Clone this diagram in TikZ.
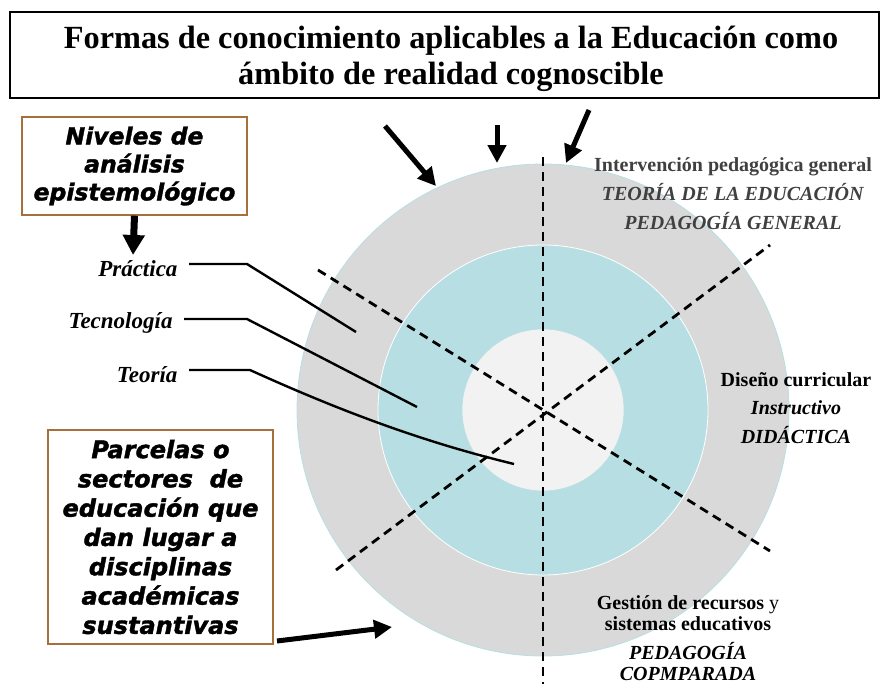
\documentclass[tikz,border=0pt]{standalone}
\usepackage{fontspec}
\setmainfont{Liberation Serif}
\newfontfamily\heavyfont[BoldItalicFeatures={FakeBold=1.6}]{DejaVu Sans}
\usetikzlibrary{arrows.meta}

\definecolor{ringgrey}{RGB}{217,217,217}
\definecolor{ringcyan}{RGB}{183,223,227}
\definecolor{corelight}{RGB}{242,242,242}
\definecolor{boxbrown}{RGB}{166,112,60}
\definecolor{textgrey}{RGB}{64,64,64}

\tikzset{
  bigarrow/.style={line width=5pt, -{Triangle[length=18pt,width=18pt]}},
  dashline/.style={line width=2.8pt, dash pattern=on 9pt off 6pt},
  leader/.style={line width=2.4pt},
  brownbox/.style={draw=boxbrown, line width=1.4pt, fill=white, inner sep=0pt,
    align=center, font=\heavyfont\bfseries\itshape\fontsize{23.5}{28}\selectfont},
  levellabel/.style={anchor=east, font=\bfseries\itshape\fontsize{23}{26}\selectfont},
  sectortext/.style={align=center, font=\fontsize{20}{29}\selectfont},
}

\begin{document}
\begin{tikzpicture}[x=1pt,y=-1pt]
  \useasboundingbox (0,0) rectangle (881,686);

  % Title
  \draw[line width=2.2pt] (10,12) rectangle (879,98);
  \node[align=center, font=\bfseries\fontsize{32.3}{36}\selectfont] (title) at (451,59)
    {Formas de conocimiento aplicables a la Educación como\\ámbito de realidad cognoscible};

  % Rings
  \coordinate (ctr) at (543,410);
  \fill[ringgrey] (ctr) circle (246pt);
  \draw[ringcyan, line width=0.8pt] (ctr) circle (246pt);
  \draw[white, fill=ringcyan, line width=0.8pt] (ctr) circle (165pt);
  \draw[ringcyan, fill=corelight, line width=0.6pt] (ctr) circle (81pt);

  % Dashed sector lines
  \coordinate (vtop) at (543,157);
  \coordinate (vbot) at (543,684);
  \coordinate (dltop) at (318,270);
  \coordinate (dlbot) at (770,551);
  \coordinate (drbot) at (336,570);
  \coordinate (drtop) at (770,245);
  \foreach \s/\e in {vtop/vbot, dltop/dlbot, drbot/drtop}
    \draw[dashline] (\s) -- (\e);

  % Arrows onto the outer ring
  \coordinate (ina) at (385,126);  \coordinate (outa) at (436,186);
  \coordinate (inb) at (497,125);  \coordinate (outb) at (497,163);
  \coordinate (inc) at (589,110);  \coordinate (outc) at (566,163);
  \coordinate (ind) at (277,641);  \coordinate (outd) at (392,627);
  \foreach \s/\e in {ina/outa, inb/outb, inc/outc, ind/outd}
    \draw[bigarrow] (\s) -- (\e);

  % Boxes
  \node[brownbox, minimum width=225pt, minimum height=98pt] (niveles) at (134.5,166)
    {Niveles de\\análisis\\epistemológico};
  \node[brownbox, minimum width=225pt, minimum height=214pt,
    font=\heavyfont\bfseries\itshape\fontsize{24}{29.3}\selectfont] (parcelas) at (160.5,537)
    {Parcelas o\\sectores~~de\\educación que\\dan lugar a\\disciplinas\\académicas\\sustantivas};
  \coordinate (nivtip) at (133,255);
  \draw[line width=7pt, -{Triangle[length=20pt,width=21pt]}] (niveles.south) -- (nivtip);

  % Levels
  \node[levellabel] (practica) at (181,269) {Práctica};
  \node[levellabel] (tecnologia) at (176,323) {Tecnología};
  \node[levellabel] (teoria) at (181,375) {Teoría};
  \coordinate (pracend) at (356,332);
  \coordinate (tecend) at (417,407);
  \coordinate (teoend) at (514,464);
  \draw[leader] ([xshift=8pt,yshift=5pt]practica.east) -- (247,264) -- (pracend);
  \draw[leader] ([xshift=8pt,yshift=4pt]tecnologia.east) -- (247,319) -- (tecend);
  \draw[leader] ([xshift=8pt,yshift=5pt]teoria.east) -- (250,370)
    .. controls (360,420) and (440,446) .. (teoend);

  % Sectors
  \node[sectortext, text=textgrey] (general) at (733,194)
    {\textbf{Intervención pedagógica general}\\\textbf{\textit{TEORÍA DE LA EDUCACIÓN}}\\\textbf{\textit{PEDAGOGÍA GENERAL}}};
  \node[sectortext, font=\fontsize{20}{28.5}\selectfont] (didactica) at (796,408)
    {\textbf{Diseño curricular}\\\textbf{\textit{Instructivo}}\\\textbf{\textit{DIDÁCTICA}}};
  \node[sectortext, font=\fontsize{20}{21.5}\selectfont] (comparada) at (688,638)
    {\textbf{Gestión de recursos} y\\\textbf{sistemas educativos}\\[7pt]\textbf{\textit{PEDAGOGÍA}}\\\textbf{\textit{COPMPARADA}}};
\end{tikzpicture}
\end{document}
